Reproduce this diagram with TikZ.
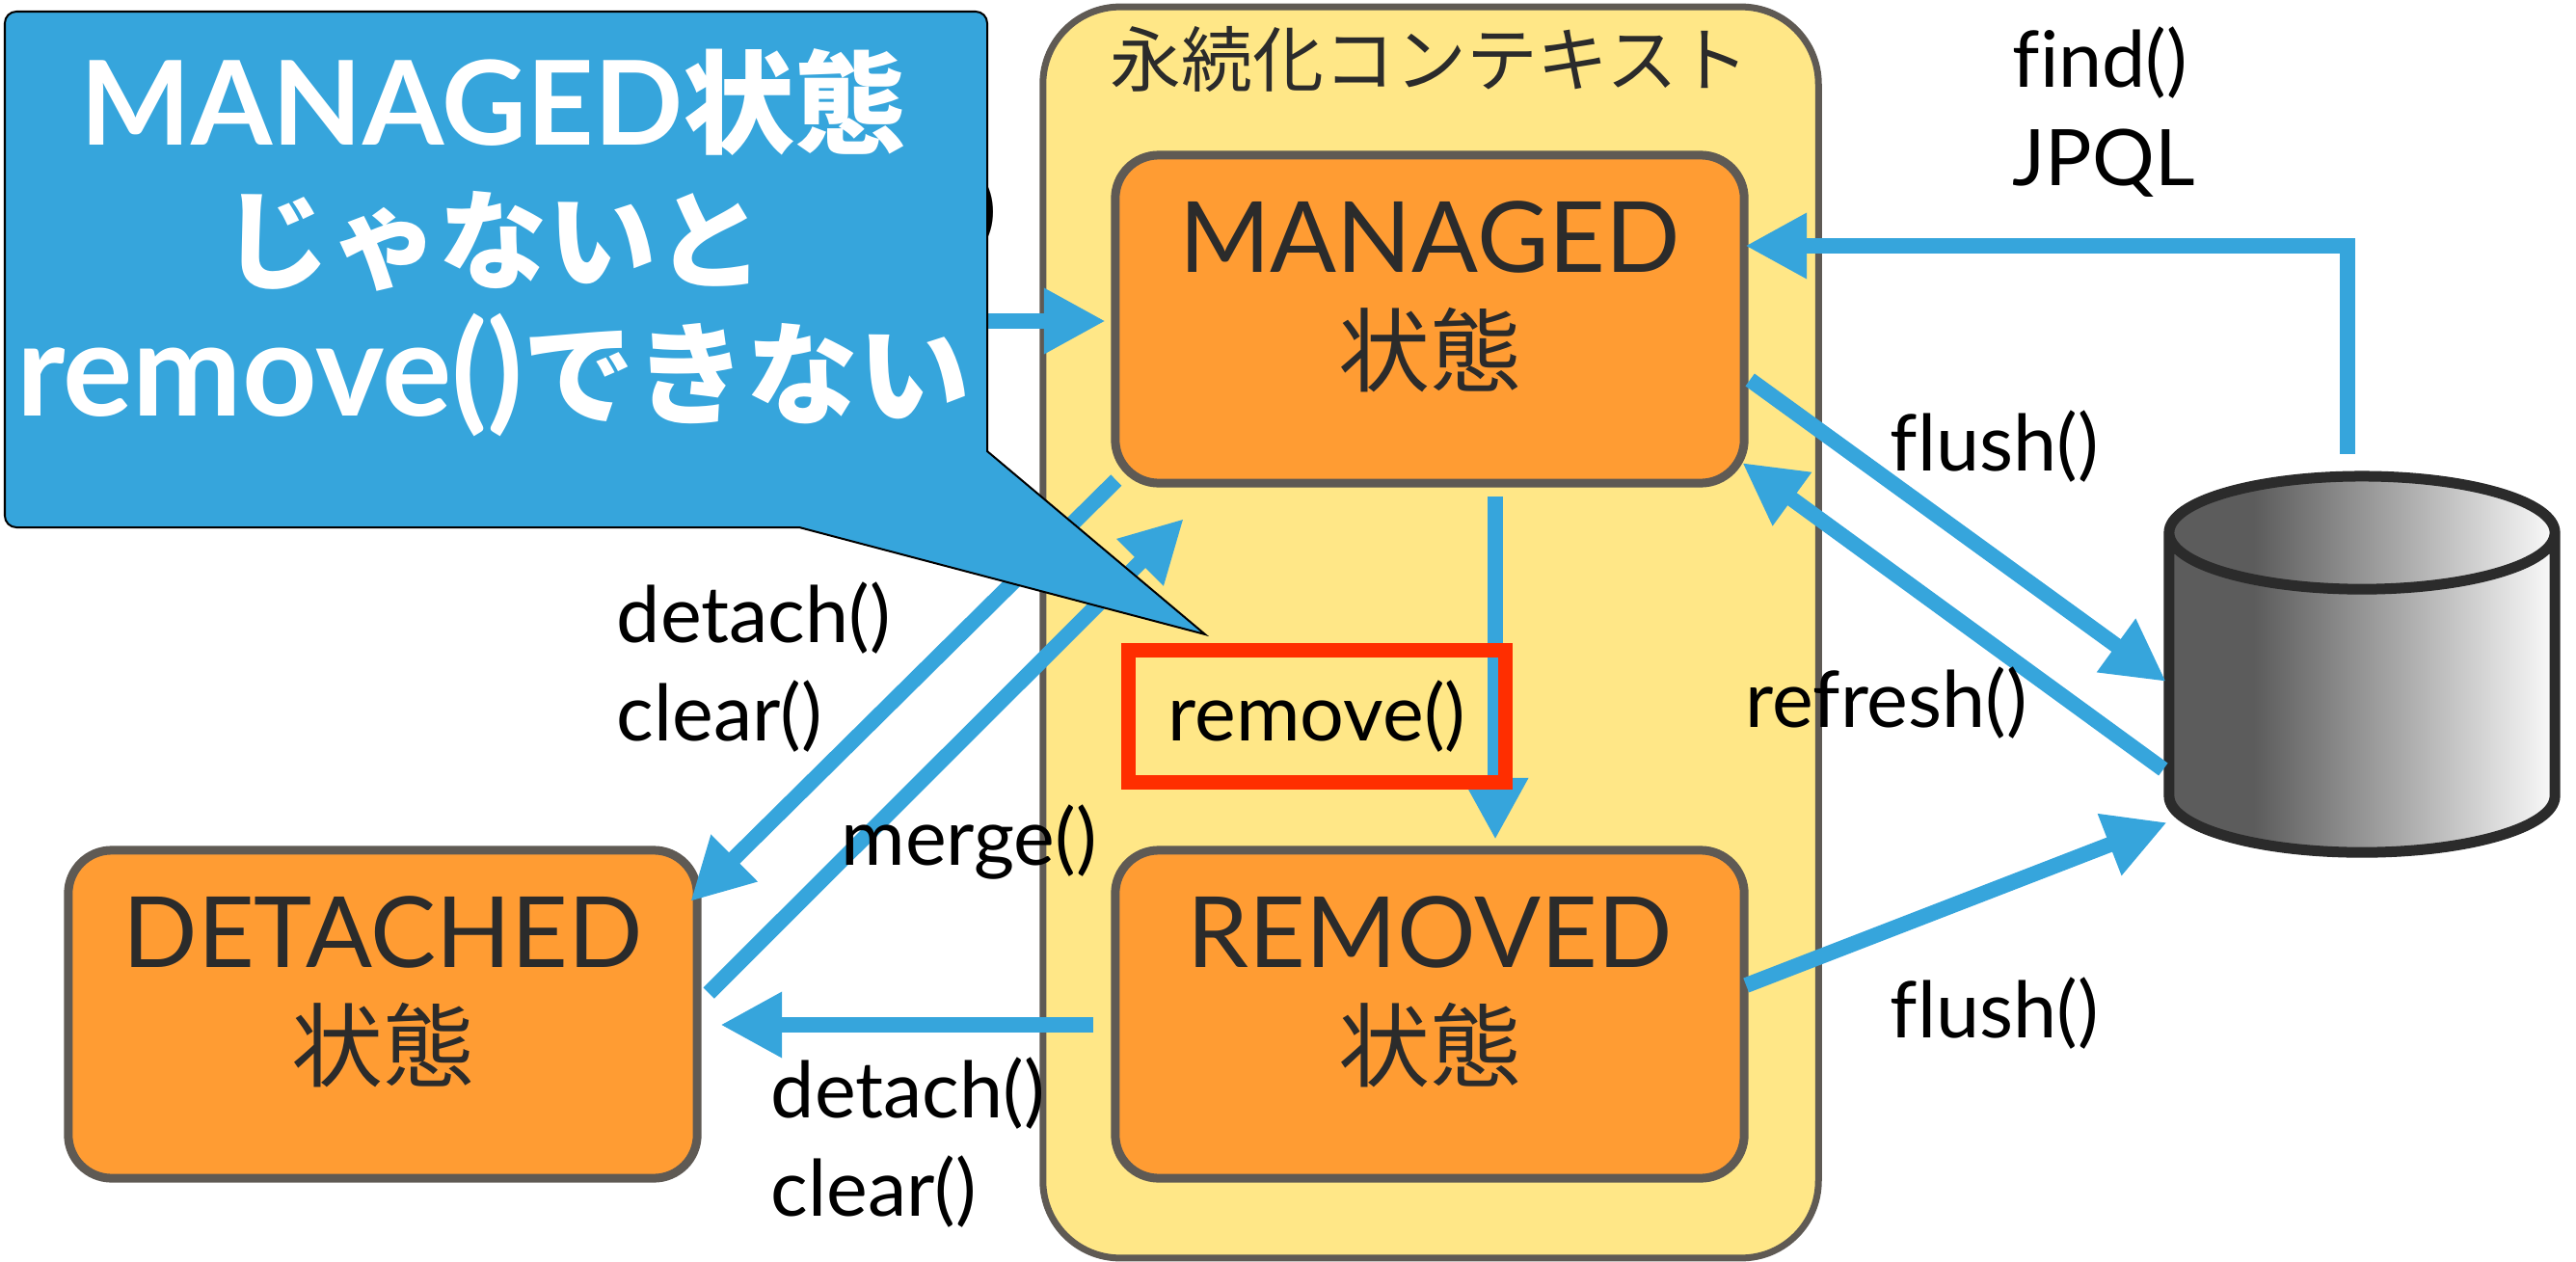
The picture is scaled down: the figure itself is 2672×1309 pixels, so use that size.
\documentclass[tikz,border=0pt]{standalone}
\usepackage{fontspec}
\setmainfont{Lato}[Ligatures=NoCommon]
\newfontfamily\cjk{Noto Sans CJK JP}
\usetikzlibrary{shapes,arrows.meta,positioning,calc}
\definecolor{arrowblue}{HTML}{36A5DC}
\definecolor{stateorange}{HTML}{FF9C33}
\definecolor{contextyellow}{HTML}{FFE787}
\definecolor{edgegray}{HTML}{5F5A54}
\definecolor{darktext}{HTML}{2B2B2B}
\definecolor{alertred}{HTML}{FF2E00}
\definecolor{dbdark}{HTML}{5C5C5C}
\definecolor{dblight}{HTML}{FAFAFA}
\pgfdeclarehorizontalshading{dbshade}{100bp}{color(0bp)=(dbdark); color(36bp)=(dbdark); color(75bp)=(dblight); color(100bp)=(dblight)}
\newcommand{\statekanji}{{\cjk\fontsize{27}{33.5}\selectfont 状態}}

\begin{document}
\begin{tikzpicture}[
    x=0.01cm, y=-0.01cm,
    context/.style={rectangle, draw=edgegray, line width=0.07cm, fill=contextyellow, rounded corners=0.8cm, minimum width=8.04cm, minimum height=12.97cm, outer sep=0pt},
    state/.style={rectangle, draw=edgegray, line width=0.09cm, fill=stateorange, rounded corners=0.45cm, minimum width=6.52cm, minimum height=3.4cm, outer sep=0pt, align=center, text=darktext, text depth=0.54cm, font=\fontsize{29}{33.5}\selectfont},
    arrow/.style={-{Triangle[length=0.64cm,width=0.64cm]}, line width=0.16cm, draw=arrowblue},
    method/.style={anchor=west, align=left, inner sep=0pt, font=\fontsize{23}{29}\selectfont},
    alertbox/.style={rectangle, draw=alertred, line width=0.15cm, minimum width=3.91cm, minimum height=1.37cm, outer sep=0pt},
    callout/.style={draw=black, line width=0.02cm, fill=arrowblue},
    database/.style={cylinder, shape border rotate=90, shape aspect=5, draw=darktext, line width=0.11cm, shading=dbshade, minimum width=4cm, minimum height=3.9cm, outer sep=0pt}
]
\useasboundingbox (0,0) rectangle (2672,1309);

% Context and states
\node[context] at (1484,656) (context) {};
\node[anchor=center, text=darktext, font=\cjk\fontsize{21}{24}\selectfont] at (1483,61) (contexttitle) {永続化コンテキスト};
\node[state] at (1483,331) (managed) {MANAGED\\\statekanji};
\node[state] at (1483,1052) (removed) {REMOVED\\\statekanji};
\node[state] at (397,1052) (detached) {DETACHED\\\statekanji};
\node[database] at (2450,731) (db) {};

% Arrows
\coordinate (newstart) at (950,333);
\draw[arrow] (newstart) -- ($(managed.west)+(-10,2)$);
\draw[arrow] ($(db.north)+(-15,-23)$) |- ($(managed.east)+(1,-76)$);
\draw[arrow] ($(managed.east)+(6,63)$) -- ($(db.west)+(-3,-24)$);
\draw[arrow] ($(db.west)+(-6,67)$) -- ($(managed.east)+(-2,149)$);
\draw[arrow] ($(removed.east)+(2,-30)$) -- ($(db.west)+(-2,122)$);
\draw[arrow] ($(managed.south west)+(1,-3)$) -- ($(detached.east)+(-7,-117)$);
\draw[arrow] ($(detached.east)+(12,-22)$) -- ($(managed.south west)+(71,37)$);
\draw[arrow] ($(managed.south)+(68,14)$) -- ($(removed.north)+(68,-11)$);
\draw[arrow] ($(removed.west)+(-23,11)$) -- ($(detached.east)+(24,11)$);

% Method labels
\node[method] at (2087,116) (findtext) {find()\\JPQL};
\node[method] at (1960,463) (flushtop) {flush()};
\node[method] at (1810,729) (refreshtext) {refresh()};
\node[method] at (1960,1051) (flushbottom) {flush()};
\node[method] at (639,692) (detachtop) {detach()\\clear()};
\node[method] at (872,874) (mergetext) {merge()};
\node[method] at (799,1185) (detachbottom) {detach()\\clear()};
\node[method, anchor=east] at (1035,220) (hiddenparen) {)};

% Red frame
\node[alertbox] at (1366,743) (removeframe) {};
\node[method, anchor=center] at (removeframe) (removetext) {remove()};

% Speech balloon
\draw[callout] (1024,468) -- (1250,658) -- (829,547) [rounded corners=0.12cm] -- (5,547) -- (5,12) -- (1024,12) [sharp corners] -- cycle;
\node[align=center, text=white, font=\bfseries\fontsize{34.5}{40}\selectfont] at (512,252) (balloontext) {MANAGED{\cjk\fontsize{33}{40}\selectfont 状態}\\{\cjk\fontsize{32}{40}\selectfont じゃないと}\\{\fontsize{38.5}{40}\selectfont remove()}{\cjk\fontsize{33}{40}\selectfont できない}};

\end{tikzpicture}
\end{document}
